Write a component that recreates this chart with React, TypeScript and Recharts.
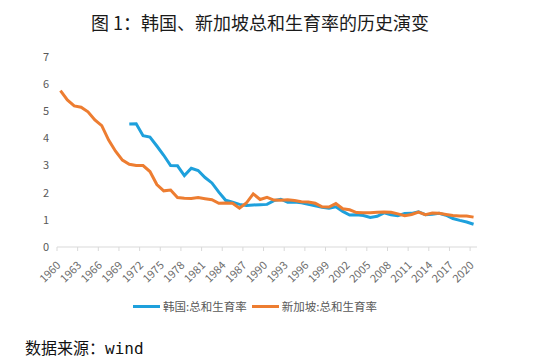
import { LineChart, Line, XAxis, YAxis } from "recharts"

const years = [
  1960, 1961, 1962, 1963, 1964, 1965, 1966, 1967, 1968, 1969,
  1970, 1971, 1972, 1973, 1974, 1975, 1976, 1977, 1978, 1979,
  1980, 1981, 1982, 1983, 1984, 1985, 1986, 1987, 1988, 1989,
  1990, 1991, 1992, 1993, 1994, 1995, 1996, 1997, 1998, 1999,
  2000, 2001, 2002, 2003, 2004, 2005, 2006, 2007, 2008, 2009,
  2010, 2011, 2012, 2013, 2014, 2015, 2016, 2017, 2018, 2019,
  2020,
]

// 韩国:总和生育率 (no data before 1970)
const korea = [
  null, null, null, null, null, null, null, null, null, null,
  4.53, 4.54, 4.1, 4.05, 3.72, 3.38, 3.0, 2.99, 2.63, 2.9,
  2.82, 2.56, 2.36, 2.02, 1.72, 1.65, 1.57, 1.53, 1.55, 1.56,
  1.57, 1.71, 1.76, 1.65, 1.66, 1.63, 1.57, 1.52, 1.46, 1.43,
  1.48, 1.31, 1.18, 1.19, 1.16, 1.09, 1.13, 1.26, 1.19, 1.15,
  1.23, 1.24, 1.3, 1.19, 1.21, 1.24, 1.17, 1.05, 0.98, 0.92,
  0.84,
]

// 新加坡:总和生育率
const singapore = [
  5.76, 5.42, 5.2, 5.15, 4.98, 4.68, 4.47, 3.94, 3.53, 3.2,
  3.05, 3.0, 3.0, 2.78, 2.3, 2.07, 2.1, 1.82, 1.8, 1.79,
  1.82, 1.78, 1.74, 1.61, 1.62, 1.61, 1.43, 1.62, 1.96, 1.75,
  1.83, 1.73, 1.72, 1.74, 1.71, 1.67, 1.66, 1.61, 1.48, 1.47,
  1.6, 1.41, 1.37, 1.27, 1.26, 1.26, 1.28, 1.29, 1.28, 1.22,
  1.15, 1.2, 1.29, 1.19, 1.25, 1.24, 1.2, 1.16, 1.14, 1.14,
  1.1,
]

const xTicks = [
  1960, 1963, 1966, 1969, 1972, 1975, 1978, 1981, 1984, 1987, 1990,
  1993, 1996, 1999, 2002, 2005, 2008, 2011, 2014, 2017, 2020,
]
const yTicks = [0, 1, 2, 3, 4, 5, 6, 7]

const series = [
  { key: "korea", name: "韩国:总和生育率", color: "#1ea0dc" },
  { key: "singapore", name: "新加坡:总和生育率", color: "#ed7d31" },
]

const data = years.map((year, i) => ({
  year,
  korea: korea[i],
  singapore: singapore[i],
}))

const FONT = '"Noto Sans CJK SC", "Liberation Sans", sans-serif'
const HALF_BAND = 420 / years.length / 2

function YearTick(props: any) {
  const { x, y, payload } = props
  const tx = x + 1
  const ty = y + 15
  return (
    <g>
      <line x1={x - HALF_BAND} y1={y - 4} x2={x - HALF_BAND} y2={y} stroke="#d9d9d9" />
      <text
        x={tx}
        y={ty}
        textAnchor="end"
        fontSize={11}
        fill="#6b6b6b"
        fontFamily={FONT}
        transform={`rotate(-45 ${tx} ${ty})`}
      >
        {payload.value}
      </text>
    </g>
  )
}

export default function App() {
  return (
    <div style={{ position: "absolute", left: 0, top: 0, width: 550, height: 363, background: "#fff" }}>
      <div
        style={{
          position: "absolute",
          left: 91,
          top: 10,
          fontSize: 18,
          fontFamily: FONT,
          color: "#1a1a1a",
          whiteSpace: "nowrap",
          lineHeight: "24px",
        }}
      >
        图 1：韩国、新加坡总和生育率的历史演变
      </div>

      <LineChart width={550} height={363} data={data} margin={{ top: 57, right: 73, bottom: 76, left: 0 }}>
        <XAxis
          dataKey="year"
          type="number"
          domain={[1959.5, 2020.5]}
          ticks={xTicks}
          interval={0}
          height={40}
          tickSize={4}
          tickMargin={0}
          tickLine={false}
          axisLine={{ stroke: "#d9d9d9" }}
          tick={<YearTick />}
        />
        <YAxis
          domain={[0, 7]}
          ticks={yTicks}
          width={57}
          axisLine={false}
          tickLine={false}
          tick={{ fontSize: 11, fill: "#595959", fontFamily: FONT }}
        />
        {series.map((s) => (
          <Line
            key={s.key}
            type="linear"
            dataKey={s.key}
            name={s.name}
            stroke={s.color}
            strokeWidth={3}
            dot={false}
            isAnimationActive={false}
            connectNulls={false}
          />
        ))}
      </LineChart>

      <div
        style={{
          position: "absolute",
          left: 133,
          top: 298,
          display: "flex",
          alignItems: "center",
          fontFamily: FONT,
          fontSize: 11.5,
          color: "#595959",
          whiteSpace: "nowrap",
        }}
      >
        {series.map((s) => (
          <div key={s.key} style={{ display: "flex", alignItems: "center", marginRight: 5 }}>
            <span style={{ display: "inline-block", width: 27, height: 3, background: s.color, marginRight: 3 }} />
            <span>{s.name}</span>
          </div>
        ))}
      </div>

      <div
        style={{
          position: "absolute",
          left: 25,
          top: 335,
          fontSize: 16,
          fontFamily: '"DejaVu Sans Mono", "Noto Sans CJK SC", monospace',
          color: "#111",
          whiteSpace: "nowrap",
        }}
      >
        数据来源：wind
      </div>
    </div>
  )
}
